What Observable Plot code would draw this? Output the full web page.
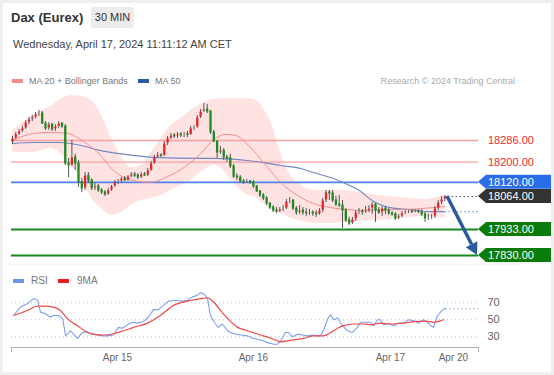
<!DOCTYPE html>
<html>
<head>
<meta charset="utf-8">
<script src="https://cdn.jsdelivr.net/npm/d3@7"></script>
<script src="https://cdn.jsdelivr.net/npm/@observablehq/plot@0.6"></script>
<style>
html,body{margin:0;padding:0;background:#fff;}
body{width:554px;height:375px;overflow:hidden;position:relative;font-family:"Liberation Sans",Arial,sans-serif;}
.abs{position:absolute;white-space:nowrap;}
#frame{position:absolute;left:0;top:0;width:554px;height:375px;box-sizing:border-box;border:3px solid #efefef;pointer-events:none;z-index:5;}
#title{left:11px;top:11px;font-size:13px;line-height:13px;font-weight:bold;color:#333;}
#tf{left:91px;top:7px;width:43px;height:21px;line-height:21px;text-align:center;font-size:11px;color:#333;background:#ececec;border-radius:3px;}
#date{left:13px;top:39px;font-size:11px;line-height:11px;color:#444;}
.leg{font-size:9px;line-height:9px;color:#777;}
.leg2{font-size:10px;line-height:10px;color:#777;}
.sw{position:absolute;width:11px;height:4px;}
#main{position:absolute;left:0;top:92px;}
#rsi{position:absolute;left:0;top:286px;}
#sep{position:absolute;left:10px;top:264px;width:510px;height:0;border-top:1px dotted #eee;}
</style>
</head>
<body>
<div id="frame"></div>
<div class="abs" id="title">Dax (Eurex)</div>
<div class="abs" id="tf">30 MIN</div>
<div class="abs" id="date">Wednesday, April 17, 2024 11:11:12 AM CET</div>

<div class="sw" style="left:12px;top:79px;background:#f88b8b"></div>
<div class="abs leg" style="left:29px;top:77px">MA 20 + Bollinger Bands</div>
<div class="sw" style="left:138px;top:79px;background:#2d5aa0"></div>
<div class="abs leg" style="left:155px;top:77px">MA 50</div>
<div class="abs leg" style="right:39px;top:77px;color:#aaa">Research © 2024 Trading Central</div>

<div id="main"></div>
<div id="sep"></div>

<div class="sw" style="left:13px;top:279px;background:#6f93ec"></div>
<div class="abs leg2" style="left:31px;top:276px">RSI</div>
<div class="sw" style="left:58px;top:279px;background:#f01c1c"></div>
<div class="abs leg2" style="left:77px;top:276px">9MA</div>
<div id="rsi"></div>

<script>
const FONT = "'Liberation Sans', Arial, sans-serif";

// ---- Candles (30 min bars, bar index 0..131) ----
const opens = [18278,18294,18310,18322,18334,18357,18369,18377,18389,18393,18353,18334,18349,18330,18341,18353,18341,18195,18187,18219,18195,18120,18096,18147,18127,18096,18104,18088,18080,18072,18088,18104,18120,18124,18135,18127,18143,18151,18147,18139,18151,18147,18167,18195,18219,18227,18225,18274,18294,18306,18302,18310,18306,18310,18308,18334,18338,18377,18401,18409,18401,18318,18282,18238,18246,18219,18215,18183,18143,18139,18124,18120,18124,18120,18104,18084,18068,18056,18036,18020,18008,18004,18012,18016,18044,18048,18016,18000,18008,18000,17997,18000,17997,17993,18008,18048,18080,18076,18048,18032,18028,18008,17969,17957,17973,18000,18004,18002,18008,18016,18032,18008,18000,18016,18008,17997,17993,17977,17985,17997,18000,18004,18002,18004,18002,17993,17977,17981,17985,18016,18040,18052];
const highs = [18302,18318,18330,18342,18365,18377,18385,18397,18405,18401,18361,18357,18353,18349,18361,18357,18349,18215,18286,18231,18207,18135,18159,18159,18135,18116,18112,18096,18088,18096,18108,18127,18131,18139,18143,18147,18159,18159,18155,18159,18159,18175,18203,18227,18238,18234,18282,18302,18314,18314,18318,18318,18318,18322,18342,18345,18385,18409,18433,18429,18405,18326,18286,18262,18254,18227,18231,18191,18155,18147,18131,18131,18127,18127,18108,18088,18076,18064,18040,18028,18020,18020,18028,18052,18060,18052,18024,18028,18020,18016,18012,18008,18008,18016,18056,18088,18088,18088,18064,18068,18048,18016,17981,17981,18008,18016,18012,18024,18028,18040,18036,18020,18024,18024,18016,18004,18000,17993,18004,18008,18008,18012,18012,18012,18012,18000,17993,17993,18024,18048,18064,18068];
const lows = [18270,18290,18306,18318,18330,18349,18361,18373,18381,18349,18326,18326,18322,18322,18334,18334,18187,18139,18183,18167,18100,18080,18088,18116,18088,18088,18080,18072,18064,18068,18084,18100,18112,18116,18124,18124,18139,18139,18131,18135,18143,18143,18163,18191,18215,18219,18223,18266,18290,18294,18294,18298,18298,18298,18306,18326,18334,18373,18397,18393,18310,18278,18215,18231,18207,18199,18175,18135,18127,18116,18112,18116,18112,18096,18080,18060,18048,18028,18012,18000,17997,18000,18004,18012,18036,18008,17989,17993,17989,17985,17989,17985,17981,17989,18000,18040,18048,18040,18024,18020,17937,17961,17949,17953,17965,17993,17989,17997,18000,17993,17961,17993,17985,17993,17989,17985,17969,17973,17981,17993,17997,17997,18000,17997,17985,17961,17969,17973,17977,18008,18032,18044];
const closes = [18294,18310,18322,18334,18357,18369,18377,18389,18393,18353,18334,18349,18330,18341,18353,18341,18195,18187,18219,18195,18120,18096,18147,18127,18096,18104,18088,18080,18072,18088,18104,18120,18124,18135,18127,18143,18151,18147,18139,18151,18147,18167,18195,18219,18227,18225,18274,18294,18306,18302,18310,18306,18310,18308,18334,18338,18377,18401,18409,18401,18318,18282,18238,18246,18219,18215,18183,18143,18139,18124,18120,18124,18120,18104,18084,18068,18056,18036,18020,18008,18004,18012,18016,18044,18048,18016,18000,18008,18000,17997,18000,17997,17993,18008,18048,18080,18076,18048,18032,18028,18008,17969,17957,17973,18000,18004,18002,18008,18016,18032,18008,18000,18016,18008,17997,17993,17977,17985,17997,18000,18004,18002,18004,18002,17993,17977,17981,17985,18016,18040,18052,18064];

// ---- Bollinger bands (MA20 ± 2σ) ----
const bandIdx = [0,2,6,9,12,15,18,21,24,27,30,33,36,39,42,45,48,51,54,57,61,64,66,71,74,76,79,81,84,88,92,96,101,105,111,118,124,131];
const bandUpper = [18326,18345,18385,18405,18425,18452,18464,18460,18445,18385,18294,18219,18179,18187,18238,18294,18345,18373,18405,18429,18449,18452,18452,18452,18445,18413,18334,18246,18155,18104,18088,18088,18088,18080,18068,18060,18052,18068];
const bandLower = [18242,18238,18238,18246,18254,18227,18187,18127,18056,18016,17989,18000,18028,18048,18056,18068,18088,18108,18127,18159,18187,18167,18131,18072,18056,18036,18008,17997,17981,17965,17957,17957,17961,17965,17969,17977,17985,17977];

// ---- MA 20 ----
const ma20Idx = [0,6.4,11.5,16.7,21.5,26.7,30,32.7,36.7,41.8,47,52.4,57,61,64.5,67.6,70.6,73,77.3,81.2,86.4,91.2,96.4,101.5,106.4,111.5,117.6,123.6,131];
const ma20 = [18286,18314,18318,18314,18282,18227,18175,18147,18127,18120,18143,18183,18234,18290,18310,18306,18278,18246,18179,18120,18068,18036,18020,18012,18008,18012,18012,18016,18024];

// ---- MA 50 ----
const ma50Idx = [0,6.4,14.5,19.4,26.7,36.7,42.7,57,61,71.2,81.2,87.3,91.2,96.4,101.5,105.5,108.5,114.5,120.6,126.7,131];
const ma50 = [18274,18278,18278,18270,18246,18227,18219,18215,18215,18207,18187,18175,18159,18139,18112,18084,18052,18020,18012,18004,18004];

// ---- Key levels ----
const levels = [18286, 18200, 18120, 18064, 17933, 17830];
const levelBg = ["none", "none", "#2a6de8", "#333333", "#0a7c0a", "#0a7c0a"];
const levelFg = ["#ee2a2a", "#ee2a2a", "#ffffff", "#ffffff", "#ffffff", "#ffffff"];
const resistances = [18286, 18200];
const pivot = [18120];
const supports = [17933, 17830];

// ---- Projection arrow ----
const arrowX = [131.8, 140.9];
const arrowY = [18064, 17830];

// ---- RSI ----
const rsiIdx = [0.3,2.4,4.5,6.4,7.6,8.5,10,11.5,12.4,13.9,15.2,16.1,17.6,18.5,19.7,21.2,22.7,24.2,25.8,27.3,28.8,30.6,32.1,33.3,34.8,36.4,37.9,39.7,41.2,42.7,44.2,45.8,47.3,49.4,51.5,53,54.5,56.1,57,58.2,59.1,60,61.5,62.4,63.6,65.2,66.1,67.6,69.1,71.2,73,75.2,77.3,79.1,80.3,81.2,82.7,83.6,84.8,86.4,87.9,89.4,90.9,92.4,93.3,94.2,95.5,96.4,97.3,98.5,100,101.5,103,104.5,105.5,107,108.5,109.4,110.6,111.5,112.4,113.9,115.5,117,118.5,120,121.5,123,124.5,125.8,126.7,127.6,128.8,129.7,130.6,131.2];
const rsi = [55,65,69,75,73,59,57,53,55,55,51,31,37,33,28,35,36,33,32,31,31,32,41,40,44,47,46,48,53,62,62,67,72,73,72,73,77,79,82,80,75,55,45,41,45,37,35,33,32,31,28,26,23,21,21,25,35,35,30,33,32,31,32,31,31,37,51,56,50,52,43,37,35,41,47,47,47,43,50,50,44,46,43,46,46,50,49,46,50,47,43,41,55,59,63,63];
const ma9Idx = [0.3,4.5,7.6,10,12.4,14.5,16.7,19.7,22.7,24.5,27.6,30.6,33.6,36.7,40.9,44.8,48.8,53,57,59.1,60.9,63.9,68.2,71.2,75.2,79.1,81.2,84.2,88.2,91.2,94.2,96.4,98.5,100.3,103.3,106.4,108.5,111.5,114.5,118.5,122.7,125.8,127.6,130.6];
const ma9 = [55,61,66,66,65,61,51,43,35,33,32,33.5,37,41,46,55,67,72,75,76,71,57,41,37,32,27,24,25.6,28,31,31,35,40,43,45,45,44,46,45,46,48,48,47,50];
const rsiTicks = [30, 50, 70];

// ---- X axis ----
const dateTickIdx = [31.8, 73.0, 114.5, 133.6];
const dateTickLabels = ["Apr 15", "Apr 16", "Apr 17", "Apr 20"];
const xDomain = [-0.3, 141.2];
const priceDomain = [17802.3, 18476.3];
const rsiDomain = [17.25, 86.9];

// ---- derived tables ----
const bars = opens.map((o, i) => ({i, o, h: highs[i], l: lows[i], c: closes[i]}));
const band = bandIdx.map((x, k) => ({x, hi: bandUpper[k], lo: bandLower[k]}));
const ma20Data = ma20Idx.map((x, k) => ({x, y: ma20[k]}));
const ma50Data = ma50Idx.map((x, k) => ({x, y: ma50[k]}));
const rsiData = rsiIdx.map((x, k) => ({x, y: rsi[k]}));
const ma9Data = ma9Idx.map((x, k) => ({x, y: ma9[k]}));

const UP = "#e3262c", DOWN = "#1f8a23";

function priceTags(index, scales, values, dims) {
  const g = d3.create("svg:g").attr("font-size", 11).attr("font-family", FONT).attr("text-anchor", "start");
  const x0 = dims.width - dims.marginRight;
  const x1 = dims.width - 2;
  levels.forEach((v, k) => {
    const y = scales.y(v);
    if (levelBg[k] !== "none") {
      g.append("path")
        .attr("d", `M${x0},${y}L${x0 + 8},${y - 7}H${x1}V${y + 7}H${x0 + 8}Z`)
        .attr("fill", levelBg[k]);
    }
    g.append("text").attr("x", x0 + 10).attr("y", y).attr("dy", "0.36em")
      .attr("text-anchor", "start")
      .attr("fill", levelFg[k]).text(d3.format(".2f")(v));
  });
  return g.node();
}

function trendArrow(index, scales) {
  const xa = scales.x(arrowX[0]), ya = scales.y(arrowY[0]);
  const xb = scales.x(arrowX[1]), yb = scales.y(arrowY[1]);
  const ang = Math.atan2(yb - ya, xb - xa), L = 12, W = 6.5;
  const bx = xb - L * Math.cos(ang), by = yb - L * Math.sin(ang);
  const px = -Math.sin(ang) * W, py = Math.cos(ang) * W;
  const g = d3.create("svg:g");
  g.append("line").attr("x1", xa).attr("y1", ya).attr("x2", bx).attr("y2", by)
    .attr("stroke", "#2d5a9e").attr("stroke-width", 3.5);
  g.append("path").attr("d", `M${xb},${yb}L${bx + px},${by + py}L${bx - px},${by - py}Z`).attr("fill", "#2d5a9e");
  return g.node();
}

const mainPlot = Plot.plot({
  width: 554, height: 170,
  marginLeft: 11, marginRight: 76, marginTop: 0, marginBottom: 0,
  x: {domain: xDomain, axis: null},
  y: {domain: priceDomain, axis: null},
  style: {background: "transparent", fontFamily: FONT, overflow: "visible"},
  marks: [
    Plot.areaY(band, {x: "x", y1: "lo", y2: "hi", fill: "#ffe3e3", curve: "monotone-x"}),
    Plot.ruleY(resistances, {stroke: "#f9a0a0", strokeWidth: 1.3}),
    Plot.ruleY(pivot, {stroke: "#4f82e8", strokeWidth: 1.6}),
    Plot.ruleY(supports, {stroke: "#168a16", strokeWidth: 2}),
    Plot.line(ma50Data, {x: "x", y: "y", stroke: "#7088c4", strokeWidth: 1.1, curve: "monotone-x"}),
    Plot.line(ma20Data, {x: "x", y: "y", stroke: "#f58c8c", strokeWidth: 1, curve: "monotone-x"}),
    Plot.ruleX(bars, {x: "i", y1: "l", y2: "h", stroke: "#555", strokeWidth: 1}),
    Plot.ruleX(bars, {filter: d => d.c >= d.o, x: "i", y1: "o", y2: "c", stroke: UP, strokeWidth: 2.3, insetTop: -0.5, insetBottom: -0.5}),
    Plot.ruleX(bars, {filter: d => d.c < d.o, x: "i", y1: "o", y2: "c", stroke: DOWN, strokeWidth: 2.3, insetTop: -0.5, insetBottom: -0.5}),
    Plot.ruleY([closes[closes.length - 1]], {x1: bars.length, x2: xDomain[1], stroke: "#555", strokeDasharray: "1.5,2.5"}),
    Plot.ruleY([ma50[ma50.length - 1]], {x1: ma50Idx[ma50Idx.length - 1], x2: xDomain[1], stroke: "#7d9ff0", strokeDasharray: "1.5,2.5", strokeWidth: 1.2}),
    trendArrow,
    priceTags
  ]
});
document.getElementById("main").append(mainPlot);

const rsiPlot = Plot.plot({
  width: 554, height: 86,
  marginLeft: 11, marginRight: 76, marginTop: 2, marginBottom: 25,
  x: {domain: xDomain, axis: null},
  y: {domain: rsiDomain, axis: null},
  style: {background: "transparent", fontFamily: FONT, overflow: "visible"},
  marks: [
    Plot.ruleY(rsiTicks, {stroke: "#c4c4c4", strokeDasharray: "1,3"}),
    Plot.axisY(rsiTicks, {anchor: "right", tickSize: 0, tickPadding: 9, fontSize: 11, color: "#666", label: null}),
    Plot.ruleY([rsiDomain[0]], {stroke: "#b0b0b0"}),
    Plot.ruleX([xDomain[0], xDomain[1]], {y1: rsiDomain[0], y2: rsiDomain[0], insetBottom: -5, stroke: "#b0b0b0"}),
    Plot.line(rsiData, {x: "x", y: "y", stroke: "#7d9ff0", strokeWidth: 1.1}),
    Plot.line(ma9Data, {x: "x", y: "y", stroke: "#f04848", strokeWidth: 1.2, curve: "monotone-x"}),
    Plot.ruleY([rsi[rsi.length - 1]], {x1: rsiIdx[rsiIdx.length - 1], x2: xDomain[1], stroke: "#7d9ff0", strokeDasharray: "1.5,2.5", strokeWidth: 1.2}),
    Plot.text(dateTickIdx, {x: d => d, text: (d, i) => dateTickLabels[i], frameAnchor: "bottom", dy: 13, fontSize: 10, fill: "#666"})
  ]
});
document.getElementById("rsi").append(rsiPlot);
</script>
</body>
</html>
